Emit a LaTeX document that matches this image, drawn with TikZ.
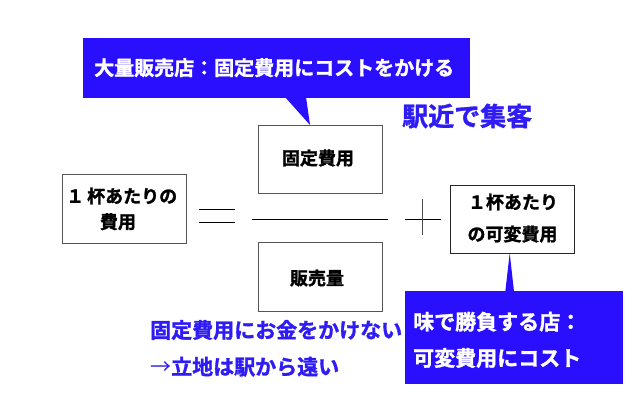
\documentclass[tikz,border=0pt]{standalone}
\usepackage{fontspec}
\setmainfont{Noto Sans CJK JP}[BoldFont={* Bold},BoldFeatures={FakeBold=1.4}]
\definecolor{calloutblue}{HTML}{2A0FFF}
\definecolor{textblue}{HTML}{2F1CF5}
\definecolor{boxgray}{HTML}{555555}
\newcommand{\fs}[1]{\fontsize{#1}{#1}\selectfont\bfseries}
\tikzset{
  callout/.style={fill=calloutblue,draw=none},
  calloutlabel/.style={text=white,anchor=west,inner sep=0pt,font=\fs{20}},
  bluelabel/.style={text=textblue,anchor=west,inner sep=0pt,font=\fs{21}},
  termbox/.style={draw=boxgray,line width=1pt,fill=white},
  termboxdark/.style={draw=black!85,line width=1pt,fill=white},
  termlabel/.style={text=black,inner sep=0pt,font=\fs{18}},
  opline/.style={draw=black,line width=0.8pt},
}
\begin{document}
\begin{tikzpicture}[x=1pt,y=-1pt]
\useasboundingbox (0,0) rectangle (640,400);
% callouts
\fill[callout] (83,38) rectangle (470,97.5);
\fill[callout] (285,97) -- (310,125) -- (306,97) -- cycle;
\fill[callout] (405,291) rectangle (623,384);
\fill[callout] (505.3,291.5) -- (509.7,253) -- (514,291.5) -- cycle;
% boxes
\draw[termbox] (258,125.5) rectangle (382,193.5);
\draw[termbox] (258,242.7) rectangle (382,311);
\draw[termbox] (62,174.7) rectangle (186,243);
\draw[termboxdark] (450.7,185.7) rectangle (574,253);
% operators
\coordinate (eqAl) at (199,209.3); \coordinate (eqAr) at (234.7,209.3);
\coordinate (eqBl) at (199,222.3); \coordinate (eqBr) at (234.7,222.3);
\coordinate (fracl) at (252,219.3); \coordinate (fracr) at (388,219.3);
\coordinate (plusl) at (405,219.3); \coordinate (plusr) at (440.7,219.3);
\coordinate (plust) at (422.7,199.3); \coordinate (plusb) at (422.7,235.3);
\draw[opline] (eqAl) -- (eqAr);
\draw[opline] (eqBl) -- (eqBr);
\draw[opline] (fracl) -- (fracr);
\draw[opline] (plusl) -- (plusr);
\draw[opline,draw=black!70] (plust) -- (plusb);
% labels
\node[calloutlabel] (top) at (94,67.7) {大量販売店：固定費用にコストをかける};
\node[termlabel] (fixed) at (318,158) {固定費用};
\node[termlabel] (sales) at (317,278) {販売量};
\node[termlabel,anchor=west] (leftA) at (66,196) {１\kern3pt 杯あたりの};
\node[termlabel] (leftB) at (118,221.7) {費用};
\node[termlabel] (rightA) at (513,202) {１杯あたり};
\node[termlabel] (rightB) at (512.5,234) {の可変費用};
\node[text=textblue,anchor=west,inner sep=0pt,font=\fs{26}] (near) at (402,116) {駅近で集客};
\node[calloutlabel,font=\fs{21}] (lowA) at (413,321.7) {味で勝負する店：};
\node[calloutlabel,font=\fs{21}] (lowB) at (413,358) {可変費用にコスト};
\node[bluelabel] (blueA) at (150,330) {固定費用にお金をかけない};
\node[bluelabel] (blueB) at (150,366.7) {{\mdseries →}立地は駅から遠い};
\end{tikzpicture}
\end{document}
